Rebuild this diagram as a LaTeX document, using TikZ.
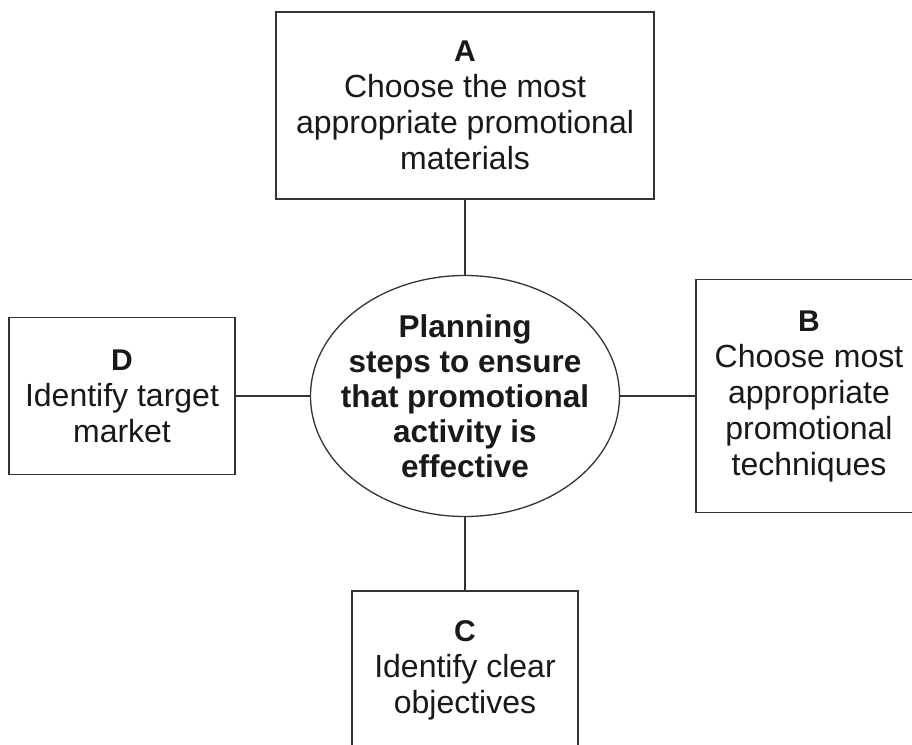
\documentclass[tikz,border=0pt]{standalone}
\usepackage{fontspec}
\setmainfont{Liberation Sans}
\usetikzlibrary{shapes.geometric}
\begin{document}
\begin{tikzpicture}[x=1pt,y=-1pt,
  every node/.style={inner sep=0pt},
  linecol/.style={draw=black!80, line width=1.3pt},
  box/.style={linecol, rectangle, fill=white},
  txt/.style={align=center, text=black!90, font=\fontsize{32}{36}\selectfont},
  btxt/.style={align=center, text=black!90, font=\fontsize{31.5}{35}\selectfont\bfseries},
  letter/.style={},
  conn/.style={linecol}]
\useasboundingbox (0,0) rectangle (912,744);
\clip (0,0) rectangle (912,744);
\fill[white] (0,0) rectangle (912,744);
% boxes
\node[box, minimum width=378pt, minimum height=187pt] (A) at (465,105.5) {};
\node[box, minimum width=226pt, minimum height=233pt] (B) at (809,396) {};
\node[box, minimum width=226pt, minimum height=158pt] (C) at (465,670) {};
\node[box, minimum width=226pt, minimum height=157pt] (D) at (122,396) {};
% ellipse
\node[linecol, ellipse, minimum width=309pt, minimum height=241pt] (E) at (465,396) {};
% connectors
\draw[conn] (A.south) -- (E.north);
\draw[conn] (E.east) -- (B.west);
\draw[conn] (E.south) -- (C.north);
\draw[conn] (D.east) -- (E.west);
% texts
\node[txt] (At) at (A) {{\bfseries\fontsize{30}{36}\selectfont A}\\Choose the most\\appropriate promotional\\materials};
\node[txt] (Bt) at (B) {{\bfseries\fontsize{30}{36}\selectfont B}\\Choose most\\appropriate\\promotional\\techniques};
\node[txt] (Ct) at (C) {{\bfseries\fontsize{30}{36}\selectfont C}\\Identify clear\\objectives};
\node[txt] (Dt) at (D) {{\bfseries\fontsize{30}{36}\selectfont D}\\Identify target\\market};
\node[btxt] (Et) at (E) {Planning\\steps to ensure\\that promotional\\activity is\\effective};
\end{tikzpicture}
\end{document}
